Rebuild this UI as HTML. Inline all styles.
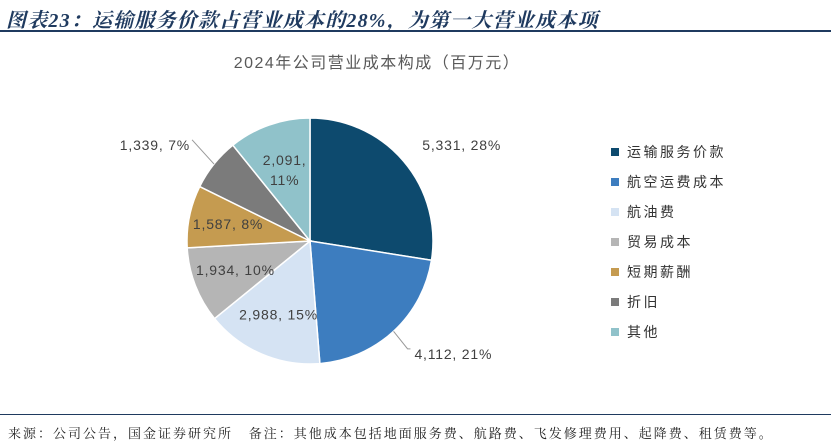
<!DOCTYPE html>
<html><head><meta charset="utf-8">
<style>
body{margin:0;width:831px;height:445px;background:#fff;font-family:"Liberation Sans","Noto Sans CJK SC",sans-serif;overflow:hidden;position:relative}
.hdr{position:absolute;left:6px;top:4px;font-size:20px;font-weight:bold;font-style:italic;color:#1f3a5f;letter-spacing:1.2px;font-family:"Liberation Serif","Noto Serif CJK SC",serif}
.hline{position:absolute;left:0;top:30px;width:831px;height:2px;background:#1f3a5f}
.fline{position:absolute;left:0;top:414px;width:831px;height:1px;background:#1f3a5f}
.foot{position:absolute;left:8px;top:423px;font-size:13px;color:#222;letter-spacing:2px;font-family:"Liberation Serif","Noto Serif CJK SC",serif}
</style></head><body>
<div class="hdr">图表23：运输服务价款占营业成本的28%，为第一大营业成本项</div>
<div class="hline"></div>
<svg id="chart" width="831" height="445" style="position:absolute;left:0;top:0">
<text x="377" y="68" text-anchor="middle" font-size="16" letter-spacing="1.5" fill="#595959">2024年公司营业成本构成（百万元）</text>
</svg>
<div class="fline"></div>
<div class="foot">来源：公司公告，国金证券研究所&nbsp;&nbsp;&nbsp;备注：其他成本包括地面服务费、航路费、飞发修理费用、起降费、租赁费等。</div>
<script>
const categories=["运输服务价款","航空运费成本","航油费","贸易成本","短期薪酬","折旧","其他"];
const values=[5331,4112,2988,1934,1587,1339,2091];
const colors=["#0d4a6e","#3d7dbf","#d5e3f3","#b5b5b5","#c59b50","#7b7b7b","#90c2ca"];
const NS="http://www.w3.org/2000/svg";
const svg=document.getElementById('chart');
const cx=310,cy=241,r=123;
const total=values.reduce((a,b)=>a+b,0);
function pt(a,rr){return [cx+rr*Math.sin(a),cy-rr*Math.cos(a)];}
function fmt(v){return v.toLocaleString('en-US');}
let a0=0;
const labelR=[1.2,1.25,0.65,0.65,0.68,1.25,0.62];
values.forEach((v,i)=>{
  const a1=a0+v/total*2*Math.PI;
  const [x0,y0]=pt(a0,r),[x1,y1]=pt(a1,r);
  const p=document.createElementNS(NS,'path');
  p.setAttribute('d',`M${cx},${cy}L${x0},${y0}A${r},${r} 0 ${a1-a0>Math.PI?1:0} 1 ${x1},${y1}Z`);
  p.setAttribute('fill',colors[i]);p.setAttribute('stroke','#fff');p.setAttribute('stroke-width','1.5');
  
  
  svg.appendChild(p);
  const am=(a0+a1)/2;
  const pct=Math.round(v/total*100)+'%';
  const lr=labelR[i];
  let [lx,ly]=pt(am,r*lr);
  const t=document.createElementNS(NS,'text');
  t.setAttribute('font-size','14');t.setAttribute('fill','#404040');t.setAttribute('letter-spacing','0.8');
  
  
  if(i===6){
    t.setAttribute('text-anchor','middle');
    t.innerHTML=`<tspan x="${lx}" y="${ly-4}">${fmt(v)},</tspan><tspan x="${lx}" y="${ly+16}">${pct}</tspan>`;
  }else{
    let anchor='middle';
    if(lr>1){anchor=Math.sin(am)>0?'start':'end';}
    if(i===1){
      const [ex,ey]=pt(am,r);
      const l=document.createElementNS(NS,'polyline');
      l.setAttribute('points',`${ex},${ey} ${ex+14},${ly-5} ${lx-4},${ly-5}`);
      l.setAttribute('fill','none');l.setAttribute('stroke','#999');
      
      
      svg.appendChild(l);
    }
    if(i===5){
      const [ex,ey]=pt(am,r);
      const l=document.createElementNS(NS,'line');
      l.setAttribute('x1',ex);l.setAttribute('y1',ey);l.setAttribute('x2',lx+2);l.setAttribute('y2',ly-5);
      l.setAttribute('stroke','#999');
      
      
      svg.appendChild(l);
    }
    t.setAttribute('x',lx);t.setAttribute('y',ly+5);t.setAttribute('text-anchor',anchor);
    t.textContent=fmt(v)+', '+pct;
  }
  svg.appendChild(t);
  a0=a1;
});
categories.forEach((c,i)=>{
  const g=document.createElementNS(NS,'g');
  
  
  const y=152+i*30;
  const s=document.createElementNS(NS,'rect');
  s.setAttribute('x',611);s.setAttribute('y',y-4);s.setAttribute('width',8);s.setAttribute('height',8);s.setAttribute('fill',colors[i]);
  const t=document.createElementNS(NS,'text');
  t.setAttribute('x',627);t.setAttribute('y',y+5);t.setAttribute('font-size','14');t.setAttribute('fill','#333');t.setAttribute('letter-spacing','2.5');
  t.textContent=c;
  g.appendChild(s);g.appendChild(t);svg.appendChild(g);
});
</script>
</body></html>
